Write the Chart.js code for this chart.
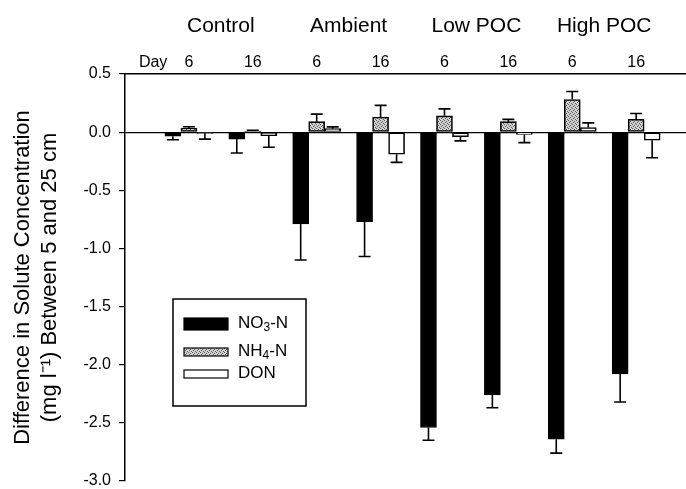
<!DOCTYPE html>
<html><head><meta charset="utf-8">
<script src="https://cdn.jsdelivr.net/npm/chart.js@4/dist/chart.umd.min.js"></script>
<style>html,body{margin:0;padding:0;background:#fff}</style>
</head><body>
<canvas id="c" width="686" height="489"></canvas>
<script>
// ---- data ----
const treatments = ['Control', 'Ambient', 'Low POC', 'High POC'];
const groupPositions = [1.5, 3.5, 5.5, 7.5];
const dayHeader = 'Day';
const dayHeaderPosition = 0.44;
const days = ['6', '16', '6', '16', '6', '16', '6', '16'];
const dayPositions = [1, 2, 3, 4, 5, 6, 7, 8];
const seriesNames = ['NO3-N', 'NH4-N', 'DON'];
const no3 = [-0.035, -0.06, -0.79, -0.77, -2.54, -2.26, -2.64, -2.08];
const no3Err = [0.03, 0.12, 0.31, 0.30, 0.11, 0.11, 0.12, 0.24];
const nh4 = [0.035, 0.01, 0.09, 0.13, 0.14, 0.09, 0.28, 0.11];
const nh4Err = [0.012, 0.005, 0.065, 0.10, 0.06, 0.02, 0.07, 0.05];
const don = [-0.01, -0.03, 0.03, -0.19, -0.04, -0.02, 0.04, -0.07];
const donErr = [0.05, 0.10, 0.015, 0.07, 0.035, 0.07, 0.04, 0.15];
const yTicks = [0.5, 0.0, -0.5, -1.0, -1.5, -2.0, -2.5, -3.0];
const yTitle = ['Difference in Solute Concentration', '(mg l\u207B\u00B9) Between 5 and 25 cm'];

const FONT = "'Liberation Sans', Arial, sans-serif";
const canvas = document.getElementById('c');
const ctx0 = canvas.getContext('2d');

function stipple() {
  const c = document.createElement('canvas'); c.width = 4; c.height = 4;
  const g = c.getContext('2d');
  g.fillStyle = '#d0d0d0'; g.fillRect(0, 0, 4, 4);
  g.fillStyle = '#5a5a5a';
  [[0,0],[2,1],[1,2],[3,3]].forEach(([x,y]) => g.fillRect(x, y, 1, 1));
  return ctx0.createPattern(c, 'repeat');
}
const nh4Fill = stipple();

const toPts = arr => dayPositions.map((x, i) => ({ x, y: arr[i] }));
const errors = [no3Err, nh4Err, donErr];

const errorBars = {
  id: 'errorBars',
  afterDatasetsDraw(chart) {
    const { ctx } = chart;
    const ys = chart.scales.y;
    ctx.save();
    ctx.strokeStyle = '#000';
    ctx.lineWidth = 1.6;
    chart.data.datasets.forEach((ds, di) => {
      const meta = chart.getDatasetMeta(di);
      meta.data.forEach((el, j) => {
        const v = ds.data[j].y, e = errors[di][j];
        const tip = v >= 0 ? v + e : v - e;
        const y0 = ys.getPixelForValue(v), y1 = ys.getPixelForValue(tip);
        ctx.beginPath();
        ctx.moveTo(el.x, y0); ctx.lineTo(el.x, y1);
        ctx.moveTo(el.x - 6, y1); ctx.lineTo(el.x + 6, y1);
        ctx.stroke();
      });
    });
    ctx.restore();
  }
};

function drawChem(ctx, text, x, y, size) {
  const parts = text.split(/(\d)/);
  let cx = x;
  parts.forEach(p => {
    if (!p) return;
    const sub = /^\d$/.test(p);
    ctx.font = (sub ? Math.round(size * 0.7) : size) + 'px ' + FONT;
    ctx.fillText(p, cx, sub ? y + 5 : y);
    cx += ctx.measureText(p).width;
  });
}

const boxLegend = {
  id: 'boxLegend',
  afterDraw(chart) {
    const { ctx, chartArea: a } = chart;
    const bx = a.left + 48, by = a.top + 225, bw = 133, bh = 107;
    ctx.save();
    ctx.fillStyle = '#fff'; ctx.fillRect(bx, by, bw, bh);
    ctx.strokeStyle = '#000'; ctx.lineWidth = 1.5; ctx.strokeRect(bx, by, bw, bh);
    const rows = [25, 53, 75];
    const hs = [12, 8, 8];
    chart.data.datasets.forEach((ds, i) => {
      const cy = by + rows[i];
      ctx.fillStyle = ds.backgroundColor;
      ctx.fillRect(bx + 11, cy - hs[i] / 2, 44, hs[i]);
      ctx.strokeStyle = '#000'; ctx.lineWidth = 1.2;
      ctx.strokeRect(bx + 11, cy - hs[i] / 2, 44, hs[i]);
      ctx.fillStyle = '#000';
      ctx.textBaseline = 'middle';
      drawChem(ctx, ds.label, bx + 65, cy - 1, 17);
    });
    ctx.restore();
  }
};

new Chart(canvas, {
  type: 'bar',
  data: {
    datasets: [
      { label: seriesNames[0], data: toPts(no3), backgroundColor: '#000', borderColor: '#000', borderWidth: 1, borderSkipped: false },
      { label: seriesNames[1], data: toPts(nh4), backgroundColor: nh4Fill, borderColor: '#000', borderWidth: 1.6, borderSkipped: false },
      { label: seriesNames[2], data: toPts(don), backgroundColor: '#fff', borderColor: '#000', borderWidth: 1.6, borderSkipped: false }
    ]
  },
  options: {
    responsive: false,
    devicePixelRatio: 1,
    animation: false,
    barThickness: 16,
    layout: { padding: { left: 0, right: 0, top: 0, bottom: 0 } },
    plugins: { legend: { display: false }, tooltip: { enabled: false } },
    scales: {
      x: {
        type: 'linear', position: 'top', min: 0, max: 8.78, offset: false, weight: 0,
        grid: { display: true, drawOnChartArea: false, drawTicks: false, offset: false },
        border: { display: true, color: '#000', width: 1.5 },
        afterBuildTicks: s => { s.ticks = [{ value: dayHeaderPosition }].concat(dayPositions.map(v => ({ value: v }))); },
        afterFit: s => { s.height = 26; },
        ticks: {
          autoSkip: false, maxRotation: 0, padding: 2, color: '#000',
          font: { family: FONT, size: 16 },
          callback: (v, i) => i === 0 ? dayHeader : days[i - 1]
        }
      },
      x2: {
        type: 'linear', position: 'top', min: 0, max: 8.78, offset: false, weight: 1,
        grid: { display: false, drawTicks: false }, border: { display: false },
        afterBuildTicks: s => { s.ticks = groupPositions.map(v => ({ value: v })); },
        afterFit: s => { s.height = 48; },
        ticks: {
          autoSkip: false, maxRotation: 0, padding: 9, color: '#000',
          font: { family: FONT, size: 21 },
          callback: (v, i) => treatments[i]
        }
      },
      y: {
        min: -3, max: 0.5,
        afterBuildTicks: s => { s.ticks = yTicks.map(v => ({ value: v })); },
        afterFit: s => { s.width = 125; s.paddingTop = 0; s.paddingBottom = 8; },
        ticks: { color: '#000', padding: 8, font: { family: FONT, size: 16 }, callback: v => v.toFixed(1) },
        grid: {
          drawOnChartArea: true, drawTicks: true, tickLength: 6, tickColor: '#000', lineWidth: 1.2,
          color: c => (c.tick && c.tick.value === 0) ? '#000' : 'rgba(0,0,0,0)'
        },
        border: { display: true, color: '#000', width: 1.5 },
        title: {
          display: true, text: yTitle, color: '#000',
          font: { family: FONT, size: 22, lineHeight: 1.23 },
          padding: { top: 9, bottom: 0 }
        }
      }
    }
  },
  plugins: [errorBars, boxLegend]
});
</script>
</body></html>
